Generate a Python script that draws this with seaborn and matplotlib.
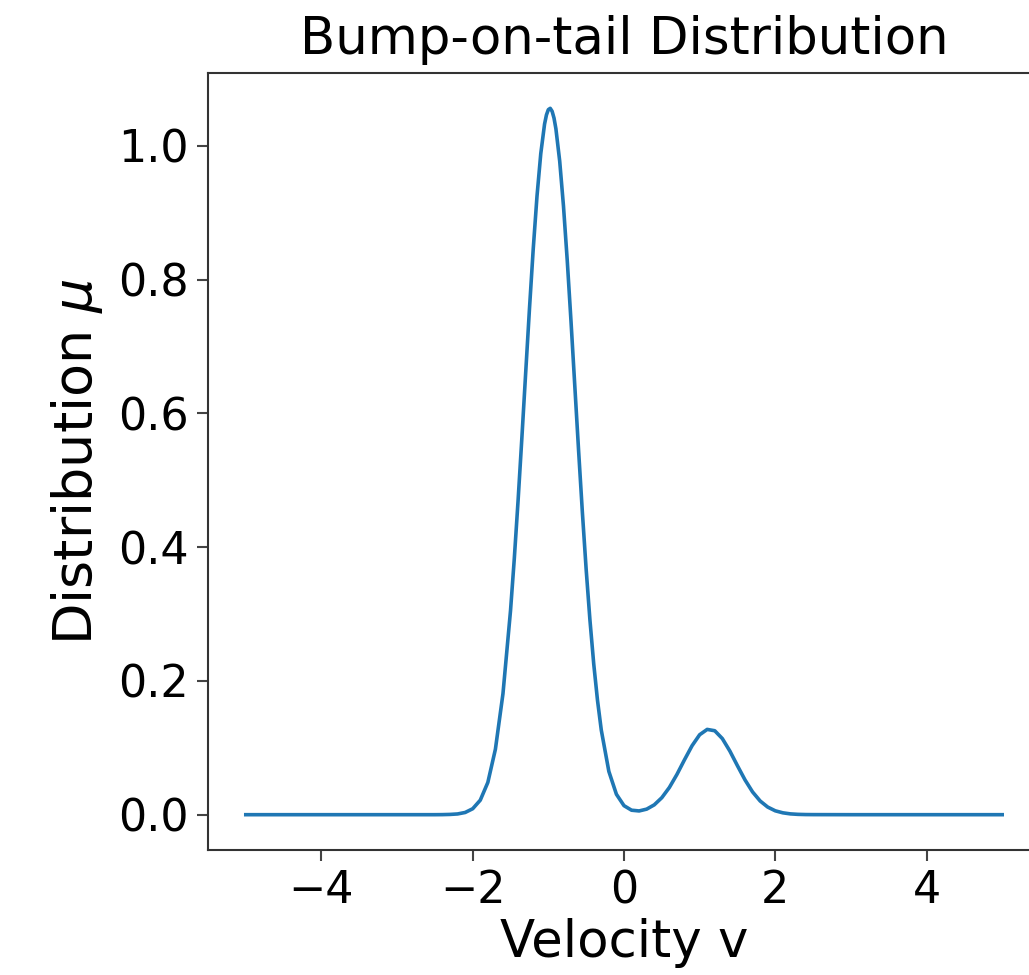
import matplotlib
matplotlib.use("Agg")
import matplotlib.pyplot as plt
import seaborn as sns
import pandas as pd

# Values
velocity = [-5.0, -4.5, -4.0, -3.5, -3.0, -2.5, -2.4, -2.3, -2.2, -2.1, -2.0,
            -1.9, -1.8, -1.7, -1.6, -1.5, -1.45, -1.4, -1.35, -1.3, -1.25,
            -1.2, -1.15, -1.1, -1.05, -1.025, -1.0, -0.975, -0.95, -0.925, -0.9,
            -0.85, -0.8, -0.75,
            -0.7, -0.65, -0.6, -0.55, -0.5, -0.45, -0.4, -0.35, -0.3, -0.2,
            -0.1, 0.0, 0.1, 0.2, 0.3, 0.4, 0.5, 0.6, 0.7, 0.8, 0.9, 1.0,
            1.1, 1.2, 1.3, 1.4, 1.5, 1.6, 1.7, 1.8, 1.9, 2.0, 2.1, 2.2,
            2.3, 2.4, 2.5, 3.0, 3.5, 4.0, 4.5, 5.0]
distribution = [0.0, 0.0, 0.0, 0.0, 0.0, 0.0, 0.0001, 0.0004, 0.0011, 0.0033, 0.0089,
                0.0217, 0.0482, 0.0978, 0.1808, 0.3052, 0.3830, 0.4698, 0.5633, 0.6599, 0.7556,
                0.8455, 0.9247, 0.9884, 1.0325, 1.0462, 1.0541, 1.0560, 1.0516, 1.0414, 1.0254,
                0.9772, 0.9100, 0.8283,
                0.7368, 0.6405, 0.5442, 0.4518, 0.3666, 0.2908, 0.2254, 0.1708, 0.1264, 0.0647,
                0.0305, 0.0135, 0.0067, 0.0056, 0.0083, 0.0147, 0.0254, 0.0407, 0.0602, 0.0821, 0.1031, 0.1195,
                0.1275, 0.1255, 0.1138, 0.0951, 0.0732, 0.0520, 0.0340, 0.0205, 0.0114, 0.0058, 0.0028, 0.0012,
                0.0005, 0.0002, 0.0001, 0.0, 0.0, 0.0, 0.0, 0.0]

title = "Bump-on-tail Distribution"
xlabel = "Velocity v"
ylabel = r"Distribution $\mu$"

df = pd.DataFrame({"v": velocity, "mu": distribution})

plt.rcParams["font.family"] = ["DejaVu Sans"]
fig = plt.figure(figsize=(10.29, 9.75), dpi=100)
ax = fig.add_axes([0.2021, 0.1282, 0.8086, 0.7969])

sns.lineplot(data=df, x="v", y="mu", ax=ax, color="#1f77b4", linewidth=2.6)

ax.set_title(title, fontsize=37, pad=14)
ax.set_xlabel(xlabel, fontsize=37, labelpad=4)
ax.set_ylabel(ylabel, fontsize=39, labelpad=9)
ax.set_xticks([-4, -2, 0, 2, 4])
ax.set_yticks([0.0, 0.2, 0.4, 0.6, 0.8, 1.0])
ax.tick_params(axis="both", labelsize=32, length=8, width=1.5, pad=6, color="#444444")
for s in ax.spines.values():
    s.set_linewidth(1.5)
    s.set_color("#333333")

fig.savefig("out.png", dpi=100)
